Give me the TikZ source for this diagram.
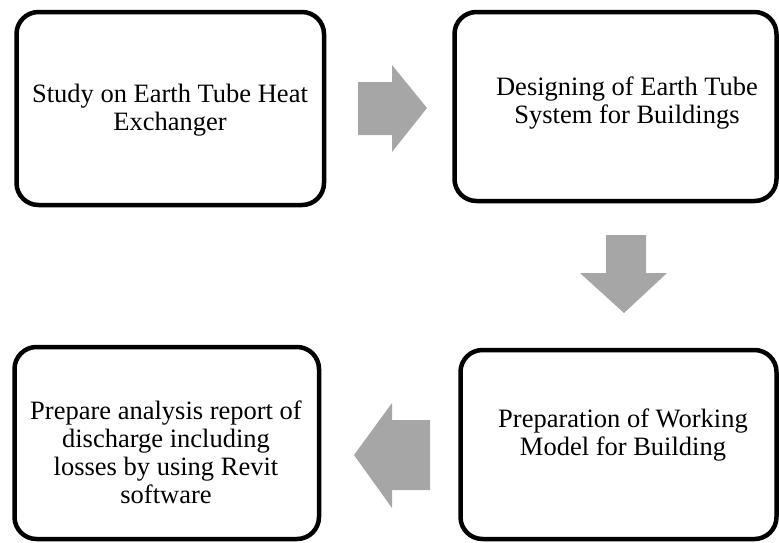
\documentclass[tikz,border=0pt]{standalone}
\usepackage{fontspec}
\setmainfont{Liberation Serif}
\begin{document}
\begin{tikzpicture}[x=1pt,y=-1pt,
  stepbox/.style={draw=black,line width=4.5pt,rounded corners=22pt},
  steptext/.style={align=center,inner sep=0pt,font=\fontsize{26.5}{28}\selectfont},
  blockarrow/.style={fill=black!35,draw=none}]
\useasboundingbox (0,0) rectangle (779,542);
% boxes
\draw[stepbox] (16.5,12) rectangle (324,205);
\draw[stepbox] (454.5,12) rectangle (776.5,201);
\draw[stepbox] (14.5,347) rectangle (319,539);
\draw[stepbox] (460.5,350) rectangle (776.5,539);
% texts
\node[steptext] (s1) at (170,110) {Study on Earth Tube Heat\\Exchanger};
\node[steptext] (s2) at (627,103) {Designing of Earth Tube\\System for Buildings};
\node[steptext] (s3) at (623,435) {Preparation of Working\\Model for Building};
\node[steptext] (s4) at (166,452.5) {Prepare analysis report of\\discharge including\\losses by using Revit\\software};
% arrows
\coordinate (a1) at (358,108);
\fill[blockarrow] (a1) ++(0,-26) -- ++(34,0) -- ++(0,-17) -- (427,108) -- (392,152) -- ++(0,-17) -- ++(-34,0) -- cycle;
\coordinate (a2) at (624,235);
\fill[blockarrow] (a2) ++(-18,0) -- ++(40,0) -- ++(0,38) -- (667,273) -- (624,313) -- (580,273) -- (606,273) -- cycle;
\coordinate (a3) at (430,455);
\fill[blockarrow] (a3) ++(0,-35) -- ++(-38,0) -- ++(0,-17) -- (354,455) -- (392,508) -- ++(0,-18) -- ++(38,0) -- cycle;
\end{tikzpicture}
\end{document}
